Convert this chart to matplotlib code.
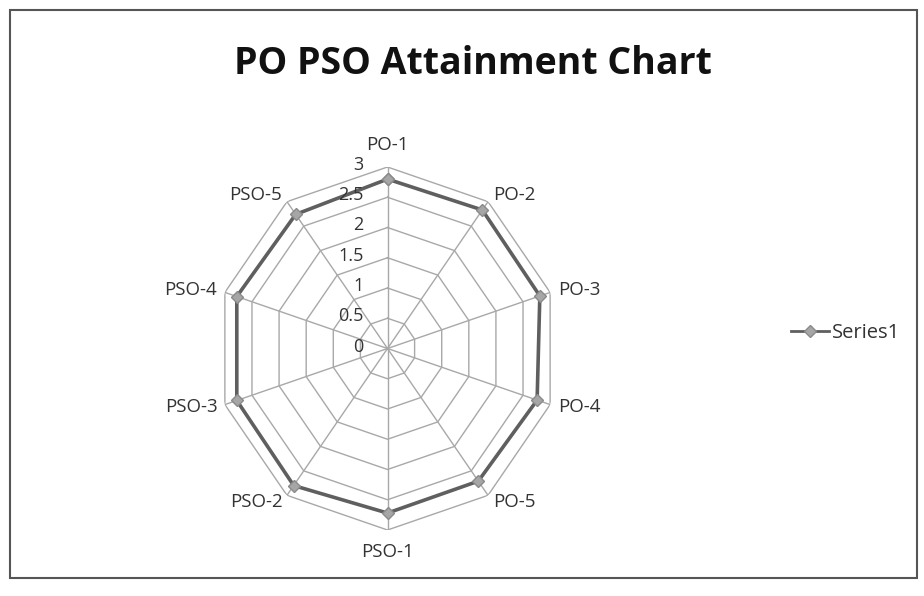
import numpy as np
import matplotlib
matplotlib.use("Agg")
import matplotlib.pyplot as plt
from matplotlib.patches import Rectangle
from matplotlib.lines import Line2D
import matplotlib.transforms as mtransforms

categories = ["PO-1", "PO-2", "PO-3", "PO-4", "PO-5",
              "PSO-1", "PSO-2", "PSO-3", "PSO-4", "PSO-5"]
values = [2.80, 2.83, 2.81, 2.76, 2.71, 2.72, 2.80, 2.78, 2.78, 2.74]
rticks = [0, 0.5, 1, 1.5, 2, 2.5, 3]
rtick_labels = ["0", "0.5", "1", "1.5", "2", "2.5", "3"]
series_name = "Series1"
title = "PO PSO Attainment Chart"

plt.rcParams['font.family'] = ['Open Sans', 'DejaVu Sans']

W, H = 924, 596
fig = plt.figure(figsize=(W / 100, H / 100), dpi=100)
fig.patch.set_facecolor("white")

# chart border
fig.patches.append(Rectangle((10 / W, 1 - 578 / H), 907 / W, 568 / H,
                             transform=fig.transFigure, fill=False,
                             edgecolor="#555555", linewidth=1.5))

# polar axes (slightly stretched vertically like the reference)
cx, cy = 387.5, 348.5
rx, ry = 171, 181.5
ax = fig.add_axes([(cx - rx) / W, 1 - (cy + ry) / H, 2 * rx / W, 2 * ry / H],
                  projection="polar")
ax.set_aspect("auto")
ax.set_theta_zero_location("N")
ax.set_theta_direction(-1)
ax.set_ylim(0, 3)
ax.grid(False)
ax.set_xticks([])
ax.set_yticks([])
ax.spines["polar"].set_visible(False)
ax.patch.set_alpha(0)

n = len(categories)
theta = np.arange(n) * 2 * np.pi / n
theta_c = np.append(theta, theta[0])

grid_col = "#a8a8a8"
for r in rticks[1:]:
    ax.plot(theta_c, [r] * (n + 1), color=grid_col, lw=1.0, zorder=1)
for t in theta:
    ax.plot([t, t], [0, 3], color=grid_col, lw=1.0, zorder=1)

vals_c = np.append(values, values[0])
ax.plot(theta_c, vals_c, color="#5f5f5f", lw=2.6, zorder=3,
        marker="D", markersize=6.5, markerfacecolor="#a6a6a6",
        markeredgecolor="#8a8a8a", markeredgewidth=1.0)

# radial labels along PO-1 spoke
for r, lab in zip(rticks, rtick_labels):
    tr = ax.transData + mtransforms.ScaledTranslation(-24 / 100, 2 / 100, fig.dpi_scale_trans)
    ax.text(0, r, lab, transform=tr, ha="right", va="center",
            fontsize=13, color="#333333")

# category labels
for t, lab in zip(theta, categories):
    s, c = np.sin(t), np.cos(t)
    dx = 8 * s
    dy = 22 * c if abs(c) > 0.9 else 8 * c
    if s > 0.3:
        ha = "left"
    elif s < -0.3:
        ha = "right"
    else:
        ha = "center"
    tr = ax.transData + mtransforms.ScaledTranslation(dx / 100, dy / 100, fig.dpi_scale_trans)
    ax.text(t, 3, lab, transform=tr, ha=ha, va="center", fontsize=13.5,
            color="#333333")

fig.text(473 / W, 1 - 64 / H, title, ha="center", va="center",
         fontsize=27, fontweight="bold", color="#111111")

handle = Line2D([], [], color="#5f5f5f", lw=2.0, marker="D", markersize=6,
                markerfacecolor="#a6a6a6", markeredgecolor="#8a8a8a")
fig.legend([handle], [series_name], loc="center left",
           bbox_to_anchor=(773 / W, 1 - 333 / H), frameon=False,
           fontsize=14.5, handlelength=1.9, handletextpad=0.15,
           labelcolor="#333333")

fig.savefig("out.png", dpi=100, facecolor="white")
